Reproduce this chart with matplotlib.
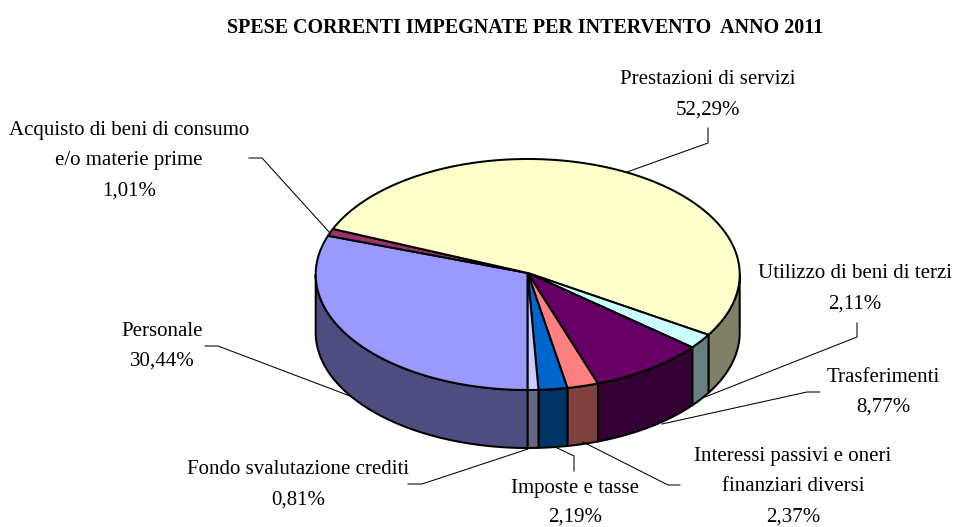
import numpy as np
import matplotlib
matplotlib.use("Agg")
import matplotlib.pyplot as plt
from matplotlib.patches import Polygon

title = "SPESE CORRENTI IMPEGNATE PER INTERVENTO  ANNO 2011"
# clockwise from the bottom of the pie
categories = ["Personale", "Acquisto di beni di consumo e/o materie prime", "Prestazioni di servizi",
              "Utilizzo di beni di terzi", "Trasferimenti", "Interessi passivi e oneri finanziari diversi",
              "Imposte e tasse", "Fondo svalutazione crediti"]
values = [30.44, 1.01, 52.29, 2.11, 8.77, 2.37, 2.19, 0.81]
top_colors = ["#9999FF", "#993366", "#FFFFCC", "#CCFFFF", "#660066", "#FF8080", "#0066CC", "#CCCCFF"]

label_lines = [["Personale"], ["Acquisto di beni di consumo", "e/o materie prime"], ["Prestazioni di servizi"],
               ["Utilizzo di beni di terzi"], ["Trasferimenti"], ["Interessi passivi e oneri", "finanziari diversi"],
               ["Imposte e tasse"], ["Fondo svalutazione crediti"]]
label_xy = [(162, 331), (129, 130), (708, 80), (855, 274), (883, 377), (793, 456), (575, 489), (298, 470)]
leaders = [[(205, 346), (218, 346), (350, 396)],
           [(249, 158), (262, 158), (330, 233)],
           [(708, 128), (708, 143), (627, 172)],
           [(857, 323), (857, 337), (705, 397)],
           [(820, 392), (807, 392), (662, 424)],
           [(680, 485), (668, 485), (583, 442)],
           [(574, 471), (574, 456), (555, 447)],
           [(408, 484), (422, 484), (528, 449)]]

cx, cy, rx, ry, depth = 527.7, 274.5, 212.0, 115.5, 58.0
FONT = "Liberation Serif"
FS = 15.0
LH = 30.5
EDGE = 1.45

fig = plt.figure(figsize=(9.57, 5.27), dpi=100)
ax = fig.add_axes([0, 0, 1, 1])
ax.set_xlim(0, 957)
ax.set_ylim(527, 0)
ax.axis("off")


def rim(a0, a1, dy=0.0):
    t = np.radians(np.linspace(a0, a1, max(2, int(abs(a1 - a0) * 2) + 2)))
    return np.column_stack([cx + rx * np.cos(t), cy - ry * np.sin(t) + dy])


def shade(c):
    return tuple(v * 0.5 for v in matplotlib.colors.to_rgb(c))


fractions = np.array(values) / np.sum(values)
edges = 270 - 360 * np.concatenate([[0], np.cumsum(fractions)])  # math angles, clockwise

# side walls (only the front half, 180..360 deg, is visible)
for i, col in enumerate(top_colors):
    a_hi, a_lo = edges[i], edges[i + 1]
    for shift in (0, -360):
        lo = max(a_lo + shift, -180)
        hi = min(a_hi + shift, 0)
        if hi > lo:
            front = rim(lo, hi)
            back = rim(hi, lo, depth)
            ax.add_patch(Polygon(np.vstack([front, back]), closed=True, facecolor=shade(col),
                                 edgecolor="black", linewidth=EDGE, joinstyle="round", zorder=2))

# top faces
for i, col in enumerate(top_colors):
    arc = rim(edges[i], edges[i + 1])
    ax.add_patch(Polygon(np.vstack([[(cx, cy - 1.5)], arc]), closed=True, facecolor=col,
                         edgecolor="black", linewidth=EDGE, joinstyle="round", zorder=3))

# leader lines
for pts in leaders:
    xs, ys = zip(*pts)
    ax.plot(xs, ys, color="black", lw=0.75, zorder=4, solid_joinstyle="miter")

# labels
for lines, v, (x, y) in zip(label_lines, values, label_xy):
    pct = f"{v:.2f}%".replace(".", ",")
    for k, s in enumerate(lines + [pct]):
        ax.text(x, y + k * (LH if lines[0] != "Imposte e tasse" else 28.5), s, family=FONT, fontsize=FS,
                ha="center", va="center", color="black", zorder=5)

ax.text(525, 28, title, family=FONT, fontsize=14.45, fontweight="bold", ha="center", va="center", color="black")

fig.savefig("out.png", dpi=100, facecolor="white")
